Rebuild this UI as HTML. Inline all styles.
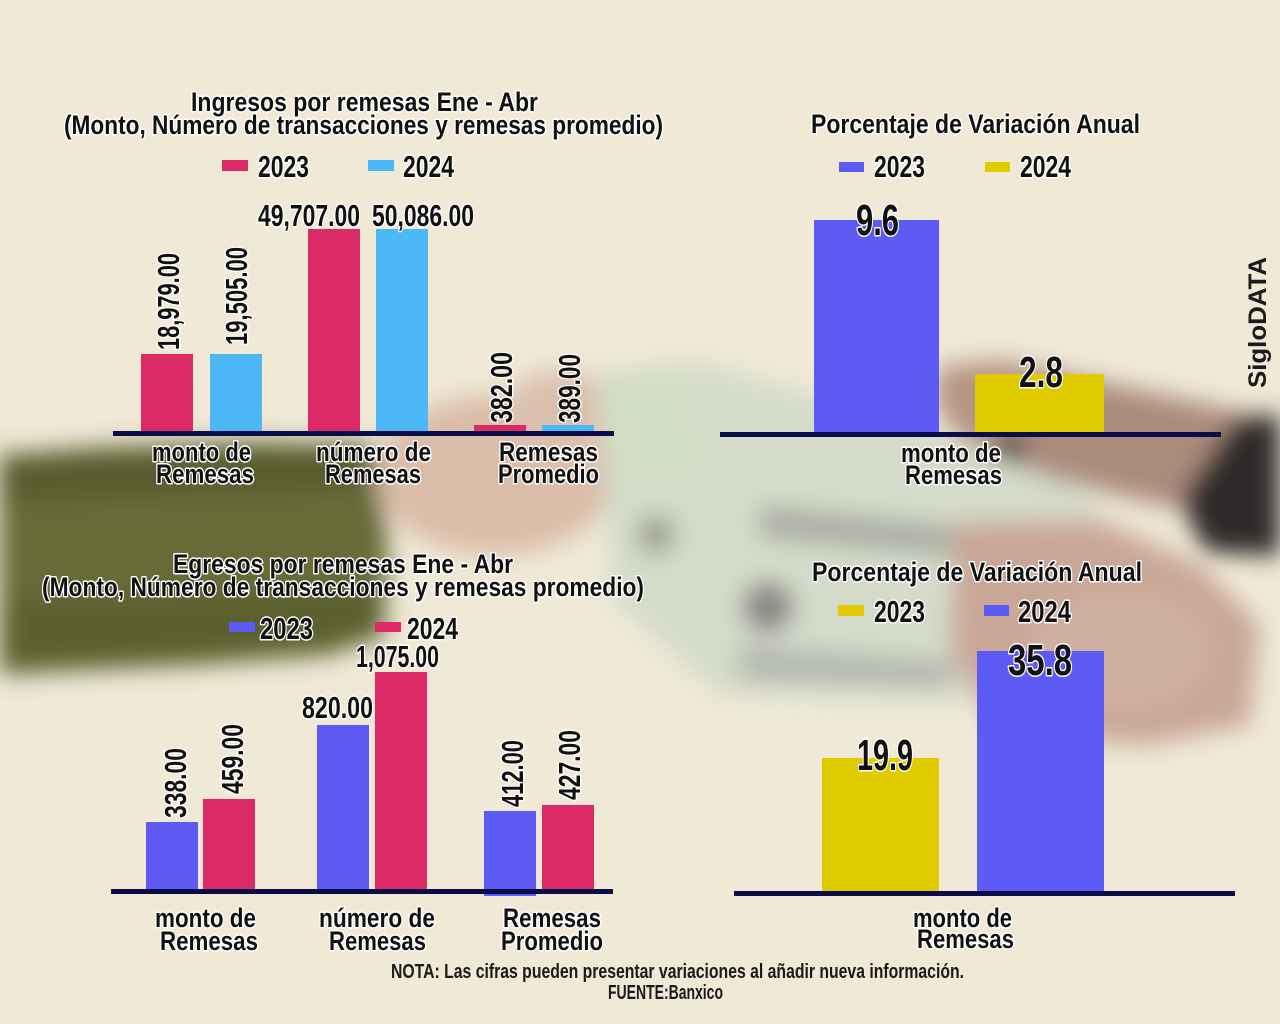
<!DOCTYPE html>
<html>
<head>
<meta charset="utf-8">
<style>
  html,body{margin:0;padding:0;background:#efe9d6;}
  svg{display:block;}
  .t{font-family:"Liberation Sans Narrow","Liberation Sans",sans-serif;font-weight:bold;fill:#111;stroke:#fff;stroke-width:3;paint-order:stroke;stroke-linejoin:round;}
  .f{font-family:"Liberation Sans Narrow","Liberation Sans",sans-serif;font-weight:bold;fill:#1a1a1a;}
  .s{font-family:"Liberation Sans",sans-serif;font-weight:bold;fill:#1b1b1b;}
</style>
</head>
<body>
<svg width="1280" height="1024" viewBox="0 0 1280 1024" xmlns="http://www.w3.org/2000/svg">
  <defs>
    <filter id="b" x="-30%" y="-30%" width="160%" height="160%"><feGaussianBlur stdDeviation="12"/></filter>
  </defs>
  <rect width="1280" height="1024" fill="#efe9d6"/>

  <!-- blurred photo background -->
  <g filter="url(#b)">
    <!-- olive sleeve -->
    <path d="M0,456 L90,448 L250,442 L372,445 L388,540 L384,632 L330,655 L200,664 L0,674 Z" fill="#676a38"/>
    <path d="M0,454 L372,445 L376,488 L0,502 Z" fill="#585b2d"/>
    <path d="M0,600 L380,590 L380,640 L200,664 L0,674 Z" fill="#5c602f"/>
    <!-- left hand -->
    <ellipse cx="495" cy="475" rx="120" ry="80" fill="#dabda9"/>
    <ellipse cx="560" cy="420" rx="60" ry="50" fill="#dcc0ae"/>
    <!-- money -->
    <path d="M598,372 L700,362 L900,420 L1095,495 L1105,640 L960,700 L720,695 L612,600 Z" fill="#d5dbca"/>
    <path d="M600,378 L690,370 L700,480 L610,490 Z" fill="#d2dec4"/>
    <circle cx="768" cy="607" r="26" fill="#858882"/>
    <circle cx="656" cy="535" r="20" fill="#9ea394"/>
    <path d="M760,505 L1090,540 L1090,570 L760,538 Z" fill="#a9ada2"/>
    <path d="M740,645 L960,662 L950,688 L740,680 Z" fill="#b3b7ad"/>
    <!-- right arm upper -->
    <path d="M935,368 L1000,360 L1280,420 L1280,520 L1160,505 L1050,478 L960,440 Z" fill="#aa8b7b"/>
    <ellipse cx="990" cy="400" rx="55" ry="35" fill="#b69483"/>
    <circle cx="1010" cy="448" r="16" fill="#514a45"/>
    <!-- dark sleeve -->
    <path d="M1180,500 L1235,418 L1280,414 L1280,556 L1205,552 Z" fill="#2e2c2a"/>
    <!-- lower hand -->
    <path d="M955,522 L1100,520 L1200,565 L1260,625 L1250,725 L1150,745 L1000,735 L950,650 Z" fill="#c9a797"/>
    <ellipse cx="1120" cy="650" rx="90" ry="60" fill="#d0b0a1"/>
  </g>

  <!-- ===== Chart 1 ===== -->
  <text class="t" x="191" y="111" font-size="27" textLength="347" lengthAdjust="spacingAndGlyphs">Ingresos por remesas Ene - Abr</text>
  <text class="t" x="64" y="134" font-size="27" textLength="599" lengthAdjust="spacingAndGlyphs">(Monto, Número de transacciones y remesas promedio)</text>
  <rect x="222" y="160" width="26" height="11" fill="#db2a66"/>
  <text class="t" x="258" y="177" font-size="31" textLength="51" lengthAdjust="spacingAndGlyphs">2023</text>
  <rect x="368" y="160" width="26" height="11" fill="#4cb9f6"/>
  <text class="t" x="403" y="177" font-size="31" textLength="51" lengthAdjust="spacingAndGlyphs">2024</text>

  <rect x="141" y="354" width="52" height="78" fill="#db2a66"/>
  <rect x="210" y="354" width="52" height="78" fill="#4cb9f6"/>
  <rect x="308" y="229" width="52" height="203" fill="#db2a66"/>
  <rect x="376" y="229" width="52" height="203" fill="#4cb9f6"/>
  <rect x="474" y="425" width="52" height="7" fill="#db2a66"/>
  <rect x="542" y="425" width="52" height="7" fill="#4cb9f6"/>
  <rect x="113" y="431" width="501" height="5" fill="#0a0d4a"/>

  <text class="t" font-size="31" textLength="97" lengthAdjust="spacingAndGlyphs" transform="translate(179,350) rotate(-90)">18,979.00</text>
  <text class="t" font-size="31" textLength="98" lengthAdjust="spacingAndGlyphs" transform="translate(247,345) rotate(-90)">19,505.00</text>
  <text class="t" x="258" y="226" font-size="31" textLength="102" lengthAdjust="spacingAndGlyphs">49,707.00</text>
  <text class="t" x="372" y="226" font-size="31" textLength="102" lengthAdjust="spacingAndGlyphs">50,086.00</text>
  <text class="t" font-size="31" textLength="71" lengthAdjust="spacingAndGlyphs" transform="translate(512,423) rotate(-90)">382.00</text>
  <text class="t" font-size="31" textLength="69" lengthAdjust="spacingAndGlyphs" transform="translate(580,423) rotate(-90)">389.00</text>

  <text class="t" x="152" y="461" font-size="27" textLength="99" lengthAdjust="spacingAndGlyphs">monto de</text>
  <text class="t" x="156" y="483" font-size="27" textLength="98" lengthAdjust="spacingAndGlyphs">Remesas</text>
  <text class="t" x="316" y="461" font-size="27" textLength="115" lengthAdjust="spacingAndGlyphs">número de</text>
  <text class="t" x="325" y="483" font-size="27" textLength="96" lengthAdjust="spacingAndGlyphs">Remesas</text>
  <text class="t" x="499" y="461" font-size="27" textLength="99" lengthAdjust="spacingAndGlyphs">Remesas</text>
  <text class="t" x="498" y="483" font-size="27" textLength="101" lengthAdjust="spacingAndGlyphs">Promedio</text>

  <!-- ===== Chart 2 ===== -->
  <text class="t" x="811" y="133" font-size="27" textLength="329" lengthAdjust="spacingAndGlyphs">Porcentaje de Variación Anual</text>
  <rect x="839" y="162" width="25" height="10" fill="#5e5af4"/>
  <text class="t" x="874" y="177" font-size="31" textLength="51" lengthAdjust="spacingAndGlyphs">2023</text>
  <rect x="985" y="162" width="25" height="10" fill="#e0ca00"/>
  <text class="t" x="1020" y="177" font-size="31" textLength="51" lengthAdjust="spacingAndGlyphs">2024</text>

  <rect x="814" y="220" width="125" height="213" fill="#5e5af4"/>
  <rect x="975" y="374" width="129" height="59" fill="#e0ca00"/>
  <rect x="720" y="432" width="501" height="5" fill="#0a0d4a"/>
  <text class="t" x="856" y="235" font-size="44" textLength="43" lengthAdjust="spacingAndGlyphs">9.6</text>
  <text class="t" x="1019" y="387" font-size="44" textLength="44" lengthAdjust="spacingAndGlyphs">2.8</text>
  <text class="t" x="901" y="462" font-size="27" textLength="100" lengthAdjust="spacingAndGlyphs">monto de</text>
  <text class="t" x="905" y="484" font-size="27" textLength="97" lengthAdjust="spacingAndGlyphs">Remesas</text>

  <text class="s" font-size="25" textLength="131" lengthAdjust="spacingAndGlyphs" transform="translate(1266,388) rotate(-90)">SigloDATA</text>

  <!-- ===== Chart 3 ===== -->
  <text class="t" x="173" y="573" font-size="27" textLength="340" lengthAdjust="spacingAndGlyphs">Egresos por remesas Ene - Abr</text>
  <text class="t" x="42" y="596" font-size="27" textLength="602" lengthAdjust="spacingAndGlyphs">(Monto, Número de transacciones y remesas promedio)</text>
  <rect x="229" y="622" width="26" height="10" fill="#5e5af4"/>
  <text class="t" x="260" y="639" font-size="31" textLength="53" lengthAdjust="spacingAndGlyphs">2023</text>
  <rect x="375" y="622" width="26" height="10" fill="#db2a66"/>
  <text class="t" x="407" y="639" font-size="31" textLength="51" lengthAdjust="spacingAndGlyphs">2024</text>

  <rect x="146" y="822" width="52" height="68" fill="#5e5af4"/>
  <rect x="203" y="799" width="52" height="91" fill="#db2a66"/>
  <rect x="317" y="725" width="52" height="165" fill="#5e5af4"/>
  <rect x="375" y="672" width="52" height="218" fill="#db2a66"/>
  <rect x="484" y="811" width="52" height="85" fill="#5e5af4"/>
  <rect x="542" y="805" width="52" height="85" fill="#db2a66"/>
  <rect x="111" y="889" width="502" height="5" fill="#0a0d4a"/>

  <text class="t" font-size="31" textLength="70" lengthAdjust="spacingAndGlyphs" transform="translate(186,818) rotate(-90)">338.00</text>
  <text class="t" font-size="31" textLength="70" lengthAdjust="spacingAndGlyphs" transform="translate(243,794) rotate(-90)">459.00</text>
  <text class="t" x="302" y="718" font-size="31" textLength="71" lengthAdjust="spacingAndGlyphs">820.00</text>
  <text class="t" x="356" y="667" font-size="31" textLength="83" lengthAdjust="spacingAndGlyphs">1,075.00</text>
  <text class="t" font-size="31" textLength="67" lengthAdjust="spacingAndGlyphs" transform="translate(523,807) rotate(-90)">412.00</text>
  <text class="t" font-size="31" textLength="70" lengthAdjust="spacingAndGlyphs" transform="translate(580,800) rotate(-90)">427.00</text>

  <text class="t" x="155" y="927" font-size="27" textLength="101" lengthAdjust="spacingAndGlyphs">monto de</text>
  <text class="t" x="160" y="950" font-size="27" textLength="98" lengthAdjust="spacingAndGlyphs">Remesas</text>
  <text class="t" x="319" y="927" font-size="27" textLength="116" lengthAdjust="spacingAndGlyphs">número de</text>
  <text class="t" x="329" y="950" font-size="27" textLength="97" lengthAdjust="spacingAndGlyphs">Remesas</text>
  <text class="t" x="503" y="927" font-size="27" textLength="98" lengthAdjust="spacingAndGlyphs">Remesas</text>
  <text class="t" x="501" y="950" font-size="27" textLength="102" lengthAdjust="spacingAndGlyphs">Promedio</text>

  <!-- ===== Chart 4 ===== -->
  <text class="t" x="812" y="581" font-size="27" textLength="330" lengthAdjust="spacingAndGlyphs">Porcentaje de Variación Anual</text>
  <rect x="838" y="605" width="26" height="11" fill="#e0ca00"/>
  <text class="t" x="874" y="622" font-size="31" textLength="51" lengthAdjust="spacingAndGlyphs">2023</text>
  <rect x="984" y="605" width="25" height="11" fill="#5e5af4"/>
  <text class="t" x="1018" y="622" font-size="31" textLength="53" lengthAdjust="spacingAndGlyphs">2024</text>

  <rect x="822" y="758" width="117" height="134" fill="#e0ca00"/>
  <rect x="977" y="651" width="127" height="241" fill="#5e5af4"/>
  <rect x="734" y="891" width="501" height="5" fill="#0a0d4a"/>
  <text class="t" x="857" y="770" font-size="44" textLength="56" lengthAdjust="spacingAndGlyphs">19.9</text>
  <text class="t" x="1008" y="675" font-size="44" textLength="64" lengthAdjust="spacingAndGlyphs">35.8</text>
  <text class="t" x="913" y="927" font-size="27" textLength="99" lengthAdjust="spacingAndGlyphs">monto de</text>
  <text class="t" x="917" y="948" font-size="27" textLength="97" lengthAdjust="spacingAndGlyphs">Remesas</text>

  <!-- footnote -->
  <text class="f" x="391" y="978" font-size="20" textLength="573" lengthAdjust="spacingAndGlyphs">NOTA: Las cifras pueden presentar variaciones al añadir nueva información.</text>
  <text class="f" x="608" y="999" font-size="20" textLength="115" lengthAdjust="spacingAndGlyphs">FUENTE:Banxico</text>
</svg>
</body>
</html>
